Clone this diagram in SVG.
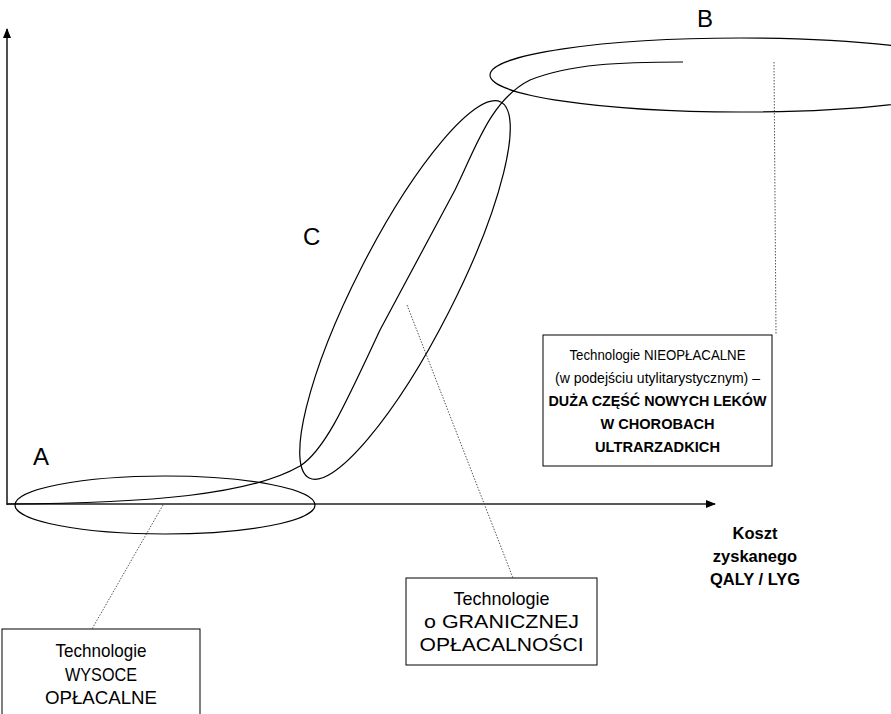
<svg xmlns="http://www.w3.org/2000/svg" width="891" height="714" viewBox="0 0 891 714">
<style>
text{font-family:"Liberation Sans",Arial,sans-serif;fill:#000}
.lbl{font-size:24px}
.box{fill:#fff;stroke:#000;stroke-width:1}
.t{font-size:19px;text-anchor:middle}
.tn{font-size:15.5px;text-anchor:middle}
.tk{font-size:16.5px;text-anchor:middle;font-weight:bold}
.b{font-weight:bold}
.ell{fill:none;stroke:#000;stroke-width:1.2}
.lead{fill:none;stroke:#555;stroke-width:1;stroke-dasharray:1.5,1.5}
.axis{fill:none;stroke:#222;stroke-width:1.6}
</style>
<defs>
<marker id="ah" markerWidth="10" markerHeight="10" refX="9" refY="5" orient="auto" markerUnits="userSpaceOnUse">
<path d="M0,1 L10,5 L0,9 Z" fill="#000"/>
</marker>
</defs>
<g id="connectors">
<line class="axis" x1="7" y1="505" x2="7" y2="29" marker-end="url(#ah)"/>
<line class="axis" x1="7" y1="504" x2="715" y2="504" marker-end="url(#ah)"/>
<path d="M7,504 C150,503 250,495 300,466 C325,450 345,405 380,330 L455,190 C475,150 490,100 530,80 C570,64 620,62 683,62" fill="none" stroke="#000" stroke-width="1.2"/>
<line class="lead" x1="774" y1="62" x2="776" y2="334"/>
<line class="lead" x1="407" y1="305" x2="513" y2="578"/>
<line class="lead" x1="163" y1="505" x2="92" y2="629"/>
</g>
<g id="ellipseA"><ellipse class="ell" cx="165" cy="505" rx="150" ry="29"/></g>
<g id="ellipseC"><ellipse class="ell" cx="405" cy="290" rx="211" ry="49" transform="rotate(-63 405 290)"/></g>
<g id="ellipseB"><ellipse class="ell" cx="740" cy="75" rx="250" ry="37"/></g>
<g id="labelA"><text class="lbl" x="33" y="465">A</text></g>
<g id="labelB"><text class="lbl" x="697" y="27">B</text></g>
<g id="labelC"><text class="lbl" x="303" y="245">C</text></g>
<g id="boxNieoplacalne">
<rect class="box" x="543" y="335" width="229" height="131"/>
<text class="tn" x="657.5" y="360" textLength="176" lengthAdjust="spacingAndGlyphs">Technologie NIEOPŁACALNE</text>
<text class="tn" x="657.5" y="383" textLength="205" lengthAdjust="spacingAndGlyphs">(w podejściu utylitarystycznym) –</text>
<text class="tn b" x="657.5" y="406" textLength="218" lengthAdjust="spacingAndGlyphs">DUŻA CZĘŚĆ NOWYCH LEKÓW</text>
<text class="tn b" x="657.5" y="429" textLength="114" lengthAdjust="spacingAndGlyphs">W CHOROBACH</text>
<text class="tn b" x="657.5" y="452" textLength="125" lengthAdjust="spacingAndGlyphs">ULTRARZADKICH</text>
</g>
<g id="boxGraniczne">
<rect class="box" x="406" y="578" width="191" height="87"/>
<text class="t" x="501.5" y="605" textLength="96" lengthAdjust="spacingAndGlyphs">Technologie</text>
<text class="t" x="501.5" y="628" textLength="155" lengthAdjust="spacingAndGlyphs">o GRANICZNEJ</text>
<text class="t" x="501.5" y="651" textLength="164" lengthAdjust="spacingAndGlyphs">OPŁACALNOŚCI</text>
</g>
<g id="boxWysoce">
<rect class="box" x="2" y="629" width="198" height="100"/>
<text class="t" x="101" y="657" textLength="91" lengthAdjust="spacingAndGlyphs">Technologie</text>
<text class="t" x="101" y="681" textLength="72" lengthAdjust="spacingAndGlyphs">WYSOCE</text>
<text class="t" x="101" y="704" textLength="112" lengthAdjust="spacingAndGlyphs">OPŁACALNE</text>
</g>
<g id="axisLabel">
<text class="tk" x="755" y="539">Koszt</text>
<text class="tk" x="755" y="562">zyskanego</text>
<text class="tk" x="755" y="585">QALY / LYG</text>
</g>
</svg>
